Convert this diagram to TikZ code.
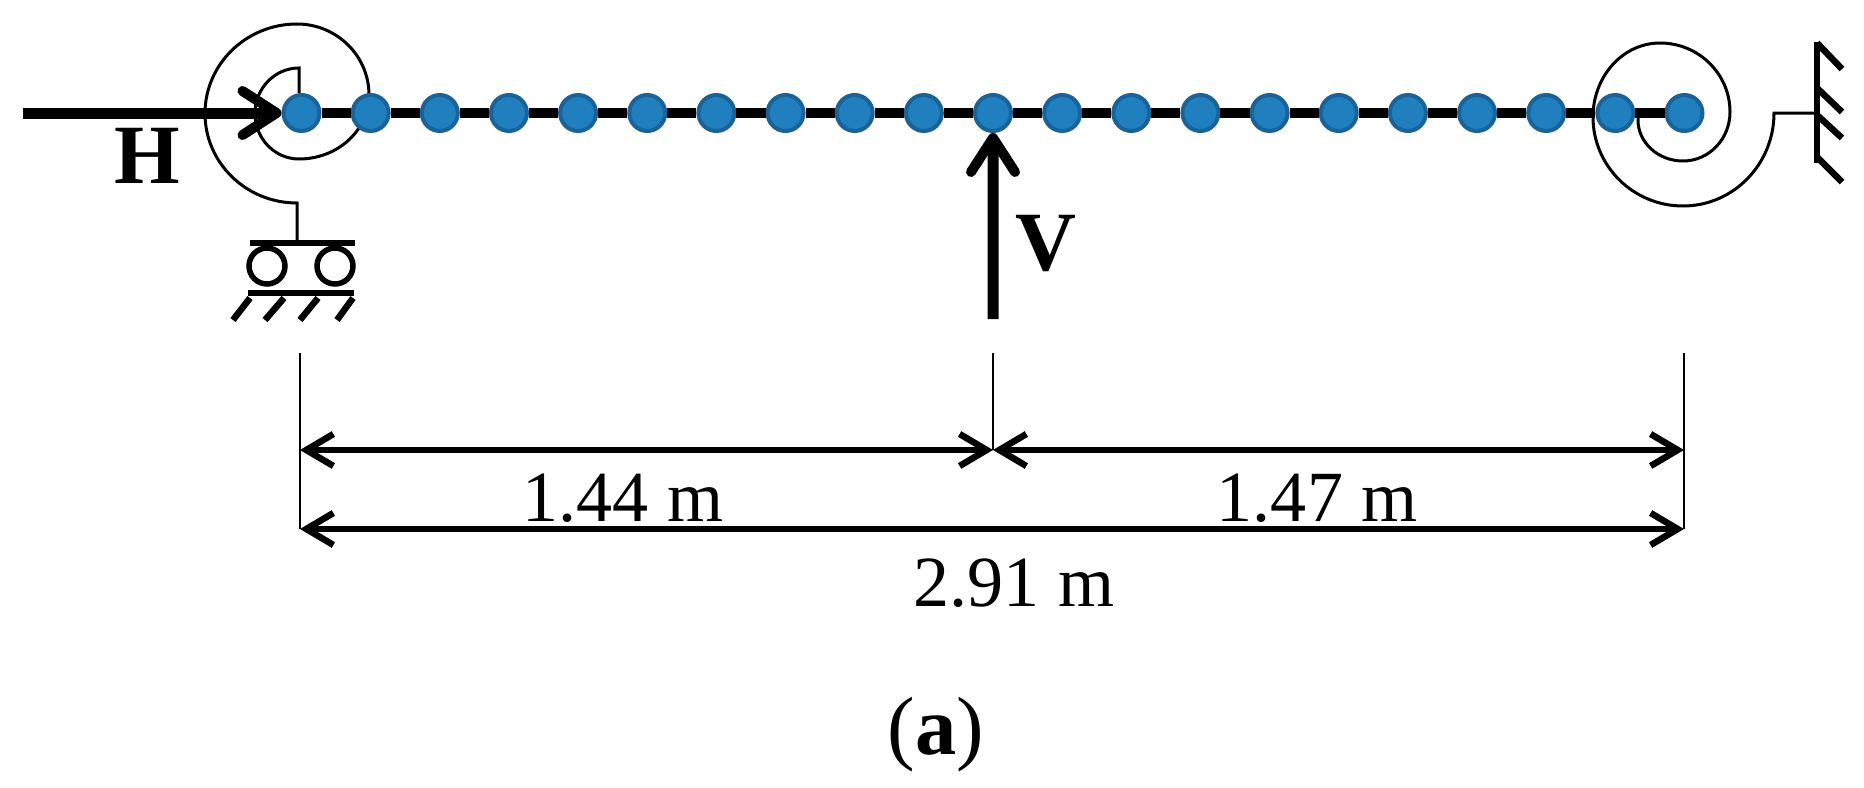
\documentclass[tikz,border=0pt]{standalone}
\usepackage{fontspec}
\setmainfont{Liberation Serif}
\usetikzlibrary{arrows.meta}
\definecolor{jointfill}{HTML}{1F7FBF}
\definecolor{jointline}{HTML}{1B6297}
\tikzset{
	joint/.style={circle, draw=jointline, fill=jointfill, line width=.04cm, minimum size=.36cm, inner sep=0pt},
	beam/.style={line width=.1cm},
	force/.style={line width=.11cm, -{Straight Barb[length=.34cm, width=.44cm, line width=.1cm, round]}},
	dimline/.style={line width=.06cm, {Straight Barb[length=.27cm, width=.32cm, line width=.065cm]}-{Straight Barb[length=.27cm, width=.32cm, line width=.065cm]}},
	spring/.style={line width=.03cm},
	extline/.style={line width=.025cm},
	support/.style={line width=.065cm},
	dimtext/.style={font=\fontsize{20.5}{24}\selectfont},
	forcetext/.style={font=\fontsize{24}{28}\selectfont\bfseries}
}
\begin{document}
\begin{tikzpicture}[node distance=.6915cm]
	\useasboundingbox (0,0) rectangle (18.64,-7.88);
	% springs
	\draw[spring] (2.99,-.93) -- (2.99,-.68)
		arc[start angle=90, end angle=270, x radius=.44, y radius=.455]
		arc[start angle=270, end angle=360, x radius=.70, y radius=.64]
		arc[start angle=0, end angle=90, x radius=.72, y radius=.71]
		arc[start angle=90, end angle=270, x radius=.92, y radius=.895]
		-- (2.97,-2.43);
	\draw[spring] (16.38,-1.13) -- (16.38,-1.20)
		arc[start angle=180, end angle=270, x radius=.45, y radius=.41]
		arc[start angle=270, end angle=360, x radius=.47, y radius=.49]
		arc[start angle=0, end angle=90, x radius=.70, y radius=.69]
		arc[start angle=90, end angle=180, x radius=.67, y radius=.74]
		arc[start angle=180, end angle=270, x radius=.90, y radius=.89]
		arc[start angle=270, end angle=360, x radius=.91, y radius=.93]
		-- (18.17,-1.13);
	% joints
	\node[joint](n1) at (3.015,-1.13){};
	\node[joint](n2)[right of=n1]{};
	\node[joint](n3)[right of=n2]{};
	\node[joint](n4)[right of=n3]{};
	\node[joint](n5)[right of=n4]{};
	\node[joint](n6)[right of=n5]{};
	\node[joint](n7)[right of=n6]{};
	\node[joint](n8)[right of=n7]{};
	\node[joint](n9)[right of=n8]{};
	\node[joint](n10)[right of=n9]{};
	\node[joint](n11)[right of=n10]{};
	\node[joint](n12)[right of=n11]{};
	\node[joint](n13)[right of=n12]{};
	\node[joint](n14)[right of=n13]{};
	\node[joint](n15)[right of=n14]{};
	\node[joint](n16)[right of=n15]{};
	\node[joint](n17)[right of=n16]{};
	\node[joint](n18)[right of=n17]{};
	\node[joint](n19)[right of=n18]{};
	\node[joint](n20)[right of=n19]{};
	\node[joint](n21)[right of=n20]{};
	% beam
	\path[beam] (n1) edge (n2);
	\path[beam] (n2) edge (n3);
	\path[beam] (n3) edge (n4);
	\path[beam] (n4) edge (n5);
	\path[beam] (n5) edge (n6);
	\path[beam] (n6) edge (n7);
	\path[beam] (n7) edge (n8);
	\path[beam] (n8) edge (n9);
	\path[beam] (n9) edge (n10);
	\path[beam] (n10) edge (n11);
	\path[beam] (n11) edge (n12);
	\path[beam] (n12) edge (n13);
	\path[beam] (n13) edge (n14);
	\path[beam] (n14) edge (n15);
	\path[beam] (n15) edge (n16);
	\path[beam] (n16) edge (n17);
	\path[beam] (n17) edge (n18);
	\path[beam] (n18) edge (n19);
	\path[beam] (n19) edge (n20);
	\path[beam] (n20) edge (n21);
	% forces
	\coordinate (Hstart) at (.23,-1.13);
	\coordinate (Vstart) at (9.93,-3.19);
	\draw[force] (Hstart) -- (n1);
	\draw[force] (Vstart) -- (n11);
	\node[forcetext](H) at (1.47,-1.56){H};
	\node[forcetext](V) at (10.46,-2.44){V};
	% roller support
	\draw[support] (2.50,-2.43) -- (3.55,-2.43);
	\draw[line width=.055cm] (2.67,-2.66) circle (.18);
	\draw[line width=.055cm] (3.35,-2.66) circle (.18);
	\draw[support] (2.48,-2.93) -- (3.54,-2.93);
	\draw[support] (2.50,-2.98) -- (2.33,-3.20);
	\draw[support] (2.84,-2.98) -- (2.65,-3.20);
	\draw[support] (3.18,-2.98) -- (3.00,-3.20);
	\draw[support] (3.53,-2.98) -- (3.37,-3.20);
	% wall
	\draw[support] (18.17,-.42) -- (18.17,-1.63);
	\draw[support] (18.17,-.43) -- (18.42,-.69);
	\draw[support] (18.17,-.88) -- (18.42,-1.12);
	\draw[support] (18.17,-1.15) -- (18.42,-1.38);
	\draw[support] (18.17,-1.57) -- (18.42,-1.82);
	% dimensions
	\coordinate (extA) at (3.00,-3.53);
	\coordinate (extB) at (9.93,-3.53);
	\coordinate (extC) at (16.84,-3.53);
	\coordinate (dimA) at (3.00,-4.50);
	\coordinate (dimB) at (9.93,-4.50);
	\coordinate (dimC) at (16.84,-4.50);
	\coordinate (allA) at (3.00,-5.29);
	\coordinate (allC) at (16.84,-5.29);
	\draw[extline] (extA) -- (allA);
	\draw[extline] (extB) -- (dimB);
	\draw[extline] (extC) -- (allC);
	\draw[dimline] (dimA) -- (dimB);
	\draw[dimline] (dimB) -- (dimC);
	\draw[dimline] (allA) -- (allC);
	\node[dimtext](d1) at (6.23,-4.98){1.44 m};
	\node[dimtext](d2) at (13.17,-4.98){1.47 m};
	\node[dimtext](d3) at (10.14,-5.83){2.91 m};
	\node[font=\fontsize{23.5}{28}\selectfont](cap) at (9.36,-7.35){(\textbf{a})};
\end{tikzpicture}
\end{document}
